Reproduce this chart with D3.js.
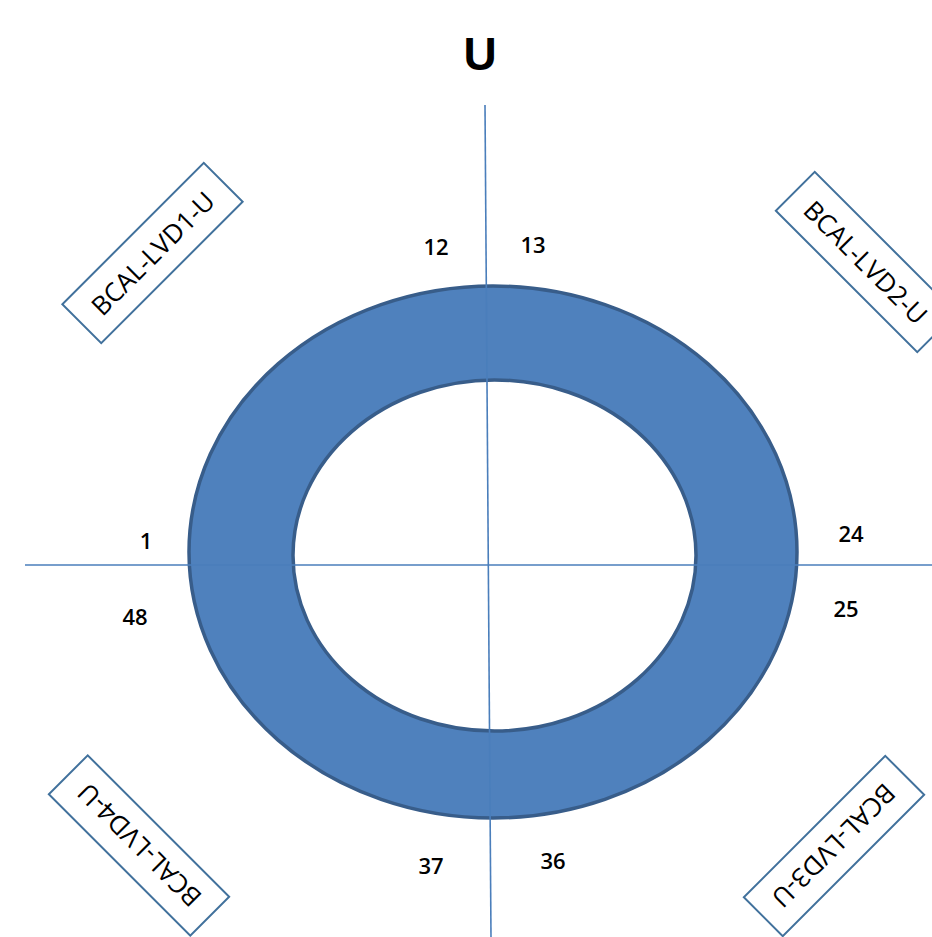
<!DOCTYPE html>
<html>
<head>
<meta charset="utf-8">
<script src="https://cdn.jsdelivr.net/npm/d3@7"></script>
<style>
  html, body { margin: 0; padding: 0; background: #fff; }
  svg { display: block; }
  text { font-family: "Open Sans", "Noto Sans", Lato, sans-serif; }
</style>
</head>
<body>
<div id="chart"></div>
<script>
// ---- data ----
const title = "U";
const channelLabels = ["12", "13", "1", "48", "24", "25", "37", "36"];
const boxLabels = ["BCAL-LVD1-U", "BCAL-LVD2-U", "BCAL-LVD3-U", "BCAL-LVD4-U"];

// ---- layout (positions kept separate from data) ----
const W = 932, H = 937;
const channelPos = [[436, 246], [533, 244], [146, 540], [135, 616], [851, 533], [846, 608], [431, 865], [553, 860]];
const boxPos = [[152.5, 253, -45], [866, 262, 45], [834, 846, 135], [139, 845.5, 225]];

const svg = d3.select("#chart").append("svg")
  .attr("width", W).attr("height", H);

// ring
const outer = {cx: 493, cy: 552, rx: 304, ry: 266};
const inner = {cx: 494.5, cy: 555.5, rx: 201.5, ry: 175.5};
function ellPath(e) {
  return `M${e.cx - e.rx},${e.cy} a${e.rx},${e.ry} 0 1,0 ${2*e.rx},0 a${e.rx},${e.ry} 0 1,0 ${-2*e.rx},0 Z`;
}
svg.append("path")
  .attr("d", ellPath(outer) + " " + ellPath(inner))
  .attr("fill", "#4f81bd")
  .attr("fill-rule", "evenodd")
  .attr("stroke", "#385d8a")
  .attr("stroke-width", 3.5);

// axes lines
const lineColor = "#4a7ebb";
svg.append("line").attr("x1", 485).attr("y1", 105).attr("x2", 491).attr("y2", H)
  .attr("stroke", lineColor).attr("stroke-width", 1.6);
svg.append("line").attr("x1", 25).attr("y1", 565).attr("x2", W).attr("y2", 565)
  .attr("stroke", lineColor).attr("stroke-width", 1.6);

// title
svg.append("text").attr("x", 480).attr("y", 70)
  .attr("text-anchor", "middle")
  .style("font-family", "'Liberation Sans', Arial, sans-serif")
  .attr("font-weight", "bold").attr("font-size", 46)
  .text(title);

// channel numbers
svg.selectAll("text.ch").data(channelLabels).join("text")
  .attr("class", "ch")
  .attr("x", (d, i) => channelPos[i][0])
  .attr("y", (d, i) => channelPos[i][1])
  .attr("text-anchor", "middle")
  .attr("dominant-baseline", "central")
  .attr("font-size", 22)
  .attr("font-weight", 600)
  .attr("fill", "#000")
  .text(d => d);

// rotated boxes
const bw = 200, bh = 55;
const g = svg.selectAll("g.box").data(boxLabels).join("g")
  .attr("class", "box")
  .attr("transform", (d, i) => `translate(${boxPos[i][0]},${boxPos[i][1]}) rotate(${boxPos[i][2]})`);
g.append("rect")
  .attr("x", -bw/2).attr("y", -bh/2).attr("width", bw).attr("height", bh)
  .attr("fill", "#fff").attr("stroke", "#41719c").attr("stroke-width", 2);
g.append("text")
  .attr("text-anchor", "middle").attr("dominant-baseline", "central")
  .attr("font-size", 26).attr("fill", "#000")
  .text(d => d);
</script>
</body>
</html>
